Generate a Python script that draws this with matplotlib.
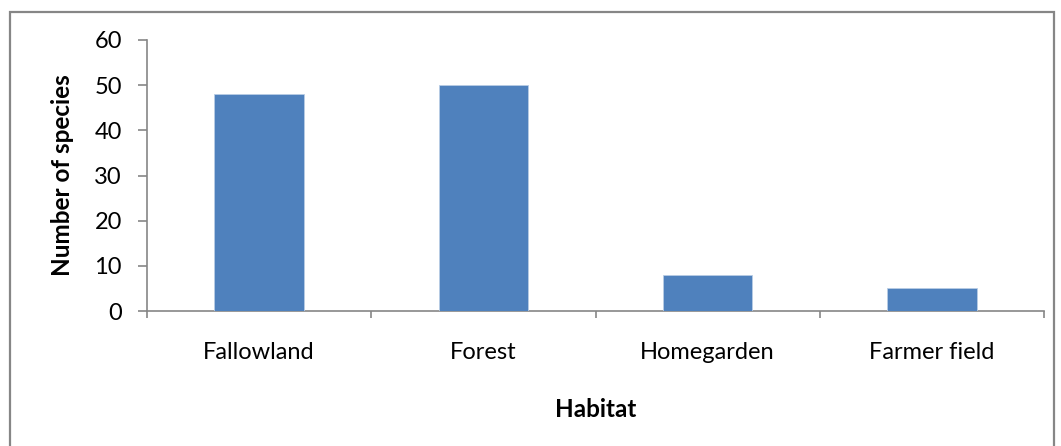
import matplotlib
matplotlib.use("Agg")
import matplotlib.pyplot as plt
from matplotlib.patches import Rectangle
import numpy as np

habitats = ["Fallowland", "Forest", "Homegarden", "Farmer field"]
species = [48, 50, 8, 5]
yticks = [0, 10, 20, 30, 40, 50, 60]

plt.rcParams["font.family"] = ["Lato", "DejaVu Sans"]
grey = "#868686"

fig = plt.figure(figsize=(10.61, 4.46), dpi=100)
ax = fig.add_axes([147/1061, 1-311/446, (1044-147)/1061, (311-40)/446])

x = np.arange(len(habitats))
ax.bar(x, species, width=0.4, color="#4F81BD", edgecolor="#b9cde5", linewidth=0.6, zorder=3)

ax.set_xlim(-0.5, len(habitats)-0.5)
ax.set_ylim(0, 60)
ax.set_yticks(yticks)
ax.set_yticklabels([str(v) for v in yticks], fontsize=17)
# category ticks between groups, labels in the middle
ax.set_xticks(np.arange(-0.5, len(habitats)))
ax.set_xticklabels([])
ax.set_xticks(x, minor=True)
ax.set_xticklabels(habitats, minor=True, fontsize=17)
ax.tick_params(axis="x", which="minor", length=0, pad=22.5)
ax.tick_params(axis="x", which="major", length=5, color=grey, width=1.2)
ax.tick_params(axis="y", length=6.5, color=grey, width=1.2, pad=11.5)

for s in ["top", "right"]:
    ax.spines[s].set_visible(False)
for s in ["left", "bottom"]:
    ax.spines[s].set_color(grey)
    ax.spines[s].set_linewidth(1.2)

ax.set_ylabel("Number of species", fontsize=17.5, fontweight="bold", labelpad=15)
ax.set_xlabel("Habitat", fontsize=17.5, fontweight="bold", labelpad=25)

fig.patches.append(Rectangle((9.5/1061, -0.1), (1054-9.5)/1061, 1.1-11.5/446,
                             transform=fig.transFigure, fill=False,
                             edgecolor=grey, linewidth=1.6))

fig.savefig("out.png", dpi=100)
